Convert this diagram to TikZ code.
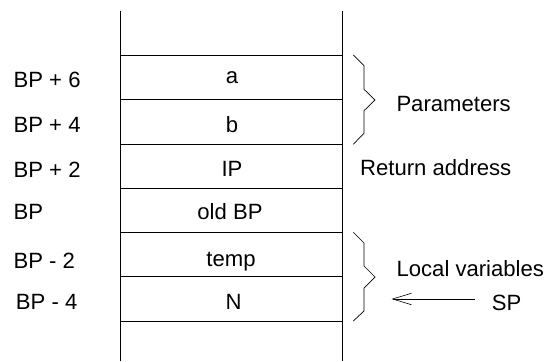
\documentclass[tikz,border=0pt]{standalone}
\usepackage{fontspec}
\setmainfont{Liberation Sans}
\usetikzlibrary{arrows.meta}
\begin{document}
\begin{tikzpicture}[x=1pt,y=-1pt,
  every node/.style={inner sep=0pt, font=\fontsize{22.1}{26}\selectfont},
  wall/.style={line width=0.9pt},
  brace/.style={line width=0.7pt, line join=miter},
  lbl/.style={anchor=base west},
  cell/.style={anchor=base},
  pointer/.style={line width=0.6pt, -{Straight Barb[length=19pt,width=11.5pt,line width=0.6pt]}},
]
\useasboundingbox (0,0) rectangle (548,361);

% stack frame: two walls and the slot separators
\draw[wall] (120.5,11) -- (120.5,361);
\draw[wall] (342,11) -- (342,361);
\foreach \y in {55,99.3,144,188,232.3,276.5,321}
  \draw[wall] (120.5,\y) -- (342,\y);

% slot contents
\node[cell] (a)    at (232,83.3)  {a};
\node[cell] (b)    at (232,132.3) {b};
\node[cell] (ip)   at (232,176.7) {IP};
\node[cell] (oldbp) at (230,219.3) {old BP};
\node[cell] (temp) at (231,266.7) {temp};
\node[cell] (n)    at (233.5,309.3) {N};

% offsets from BP
\node[lbl] (o6) at (13.4,87.3)  {BP + 6};
\node[lbl] (o4) at (13.4,132.3) {BP + 4};
\node[lbl] (o2) at (13.4,177.3) {BP + 2};
\node[lbl] (o0) at (13.4,219.3) {BP};
\node[lbl] (m2) at (13.4,268)   {BP - 2};
\node[lbl] (m4) at (15.7,309.3) {BP - 4};

% braces
\draw[brace] (353.3,55) -- (364,65.7) -- (364,89.3) -- (375,100)
  -- (364,110.7) -- (364,133.3) -- (353.3,144.3);
\draw[brace] (353.3,232.3) -- (364,243) -- (364,266) -- (375,277)
  -- (364,288) -- (364,311) -- (353.3,321);

% annotations
\node[lbl] (params) at (396.3,111)   {Parameters};
\node[lbl] (ret)    at (360,175)     {Return address};
\node[lbl] (locals) at (396.4,276.7) {Local variables};
\node[cell] (sp)    at (506.5,310)   {SP};

% stack pointer arrow
\coordinate (sptail) at (475,299);
\coordinate (sptip) at (391.5,299);
\draw[pointer] (sptail) -- (sptip);
\end{tikzpicture}
\end{document}
